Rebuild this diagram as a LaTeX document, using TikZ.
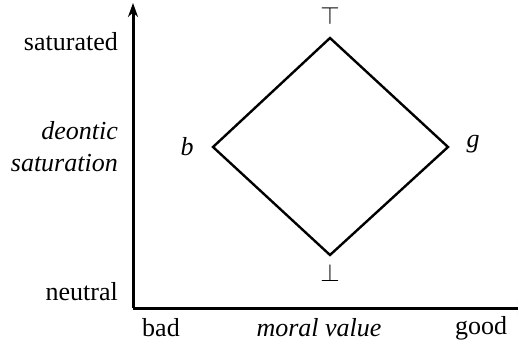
\documentclass[tikz,border=0pt]{standalone}
\usepackage{fontspec}
\setmainfont{Liberation Serif}
\newfontfamily\tms{Liberation Serif}
\usetikzlibrary{arrows.meta}
\begin{document}
\begin{tikzpicture}[x=1pt,y=-1pt,
  lab/.style={inner sep=0pt,font=\tms\fontsize{26}{30}\selectfont},
  itlab/.style={inner sep=0pt,font=\tms\fontsize{26}{30}\selectfont\itshape},
  axis/.style={line width=3pt,-{Stealth[length=14pt,width=10pt]}},
  edge/.style={line width=2.4pt,line join=miter}]
\useasboundingbox (0,0) rectangle (518,343);
\coordinate (o) at (133,308);
\coordinate (ytop) at (133,3);
\coordinate (xend) at (532,308);
\draw[axis] (o) -- (ytop);
\draw[axis] (o) -- (xend);
\coordinate (T) at (330,38);
\coordinate (B) at (330,255);
\coordinate (L) at (213,147);
\coordinate (R) at (448,147);
\draw[edge] (T) -- (R) -- (B) -- (L) -- cycle;
\node[lab,anchor=east] (sat) at (118,42) {saturated};
\node[itlab,anchor=east] (deo) at (118,131) {deontic};
\node[itlab,anchor=east] (satn) at (118,163) {saturation};
\node[lab,anchor=east] (neu) at (118,292) {neutral};
\node[lab] (bad) at (161,328) {bad};
\node[itlab] (mv) at (319,328) {moral value};
\node[lab] (good) at (481,328) {good};
\node[itlab] (b) at (187,147) {b};
\node[itlab] (g) at (473,144) {g};
\node[lab] (top) at (330,16) {$\top$};
\node[lab] (bot) at (330,273) {$\bot$};
\end{tikzpicture}
\end{document}
